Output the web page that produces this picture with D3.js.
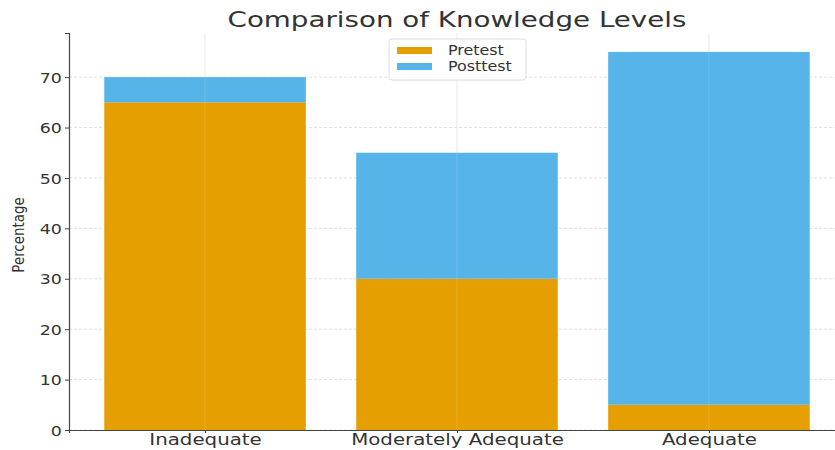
<!DOCTYPE html>
<html>
<head>
<meta charset="utf-8">
<script src="https://cdn.jsdelivr.net/npm/d3@7"></script>
<style>
  body { margin: 0; background: #fff; }
  svg { font-family: "DejaVu Sans", sans-serif; }
</style>
</head>
<body>
<script>
// data
var categories = ["Inadequate", "Moderately Adequate", "Adequate"];
var pretest = [65, 30, 5];
var posttest = [5, 25, 70];
var seriesNames = ["Pretest", "Posttest"];
var yTicks = [0, 10, 20, 30, 40, 50, 60, 70];

var colors = { Pretest: "#E69F00", Posttest: "#56B4E9" };

// the source picture is stretched sideways, so text gets a horizontal scale
var stretch = 1.2;

var margin = { top: 33, right: -10, bottom: 20, left: 69 },
  width = 835 - margin.left - margin.right,
  height = 450 - margin.top - margin.bottom;

var svg = d3.select("body").append("svg")
  .attr("width", 835)
  .attr("height", 450);

var g = svg.append("g")
  .attr("transform", "translate(" + margin.left + "," + margin.top + ")");

// bars at 0,1,2 with width 0.8, 5% margins
var x = d3.scaleLinear().domain([-0.54, 2.54]).range([0, width]);
var y = d3.scaleLinear().domain([0, 78.75]).range([height, 0]);

var rows = categories.map(function (c, i) {
  return { cat: c, i: i, Pretest: pretest[i], Posttest: posttest[i] };
});
var stacked = d3.stack().keys(seriesNames)(rows);

// grid
g.append("g").selectAll("line")
  .data(yTicks).enter().append("line")
  .attr("x1", 0).attr("x2", width)
  .attr("y1", function (d) { return y(d); })
  .attr("y2", function (d) { return y(d); })
  .attr("stroke", "#d8d8d8").attr("stroke-dasharray", "3,2")
  .attr("stroke-width", 0.8);

g.append("g").selectAll("line")
  .data(categories).enter().append("line")
  .attr("x1", function (d, i) { return x(i); })
  .attr("x2", function (d, i) { return x(i); })
  .attr("y1", 0).attr("y2", height)
  .attr("stroke", "#e0e0e0").attr("stroke-width", 0.8);

// bars
g.selectAll("g.layer")
  .data(stacked).enter().append("g")
  .attr("class", "layer")
  .attr("fill", function (d) { return colors[d.key]; })
  .selectAll("rect")
  .data(function (d) { return d; }).enter().append("rect")
  .attr("x", function (d) { return x(d.data.i - 0.4); })
  .attr("width", function (d) { return x(0.8) - x(0); })
  .attr("y", function (d) { return y(d[1]); })
  .attr("height", function (d) { return y(d[0]) - y(d[1]); });

// grid shows faintly over the bars
g.append("g").selectAll("line")
  .data(categories).enter().append("line")
  .attr("x1", function (d, i) { return x(i); })
  .attr("x2", function (d, i) { return x(i); })
  .attr("y1", 0).attr("y2", height)
  .attr("stroke", "#ffffff").attr("stroke-opacity", 0.15);

// axes
var yAxis = g.append("g")
  .call(d3.axisLeft(y).tickValues(yTicks).tickSize(4).tickPadding(2));
var xAxis = g.append("g")
  .attr("transform", "translate(0," + height + ")")
  .call(d3.axisBottom(x).tickValues([0, 1, 2]).tickSize(3).tickPadding(3)
    .tickFormat(function (d) { return categories[d]; }));

[yAxis, xAxis].forEach(function (a) {
  a.select(".domain").attr("stroke", "#444").attr("stroke-width", 1.2);
  a.selectAll(".tick line").attr("stroke", "#444");
  a.selectAll("text").attr("fill", "#333")
    .style("font-family", "DejaVu Sans, sans-serif")
    .attr("transform", "scale(" + stretch + ",1)");
});
yAxis.selectAll("text").style("font-size", "14.5px").attr("dy", "0.36em");
xAxis.selectAll("text").style("font-size", "16.5px").attr("dy", "0.52em");

// y label
svg.append("text")
  .attr("transform", "translate(24,235) scale(" + stretch + ",1) rotate(-90)")
  .attr("text-anchor", "middle")
  .style("font-size", "13.4px")
  .attr("fill", "#333")
  .text("Percentage");

// title
svg.append("text")
  .attr("transform", "translate(457,27) scale(1.32,1)")
  .attr("text-anchor", "middle")
  .style("font-size", "21px")
  .attr("fill", "#333")
  .text("Comparison of Knowledge Levels");

// legend
var lg = svg.append("g").attr("transform", "translate(389,39)");
lg.append("rect")
  .attr("width", 137).attr("height", 41).attr("rx", 3)
  .attr("fill", "#fff").attr("fill-opacity", 0.85)
  .attr("stroke", "#dcdcdc");
seriesNames.forEach(function (s, i) {
  lg.append("rect")
    .attr("x", 8).attr("y", 8 + i * 16)
    .attr("width", 35).attr("height", 7)
    .attr("fill", colors[s]);
  lg.append("text")
    .attr("transform", "translate(59," + (16 + i * 16) + ") scale(1.18,1)")
    .style("font-size", "13.5px").attr("fill", "#333")
    .text(s);
});
</script>
</body>
</html>
